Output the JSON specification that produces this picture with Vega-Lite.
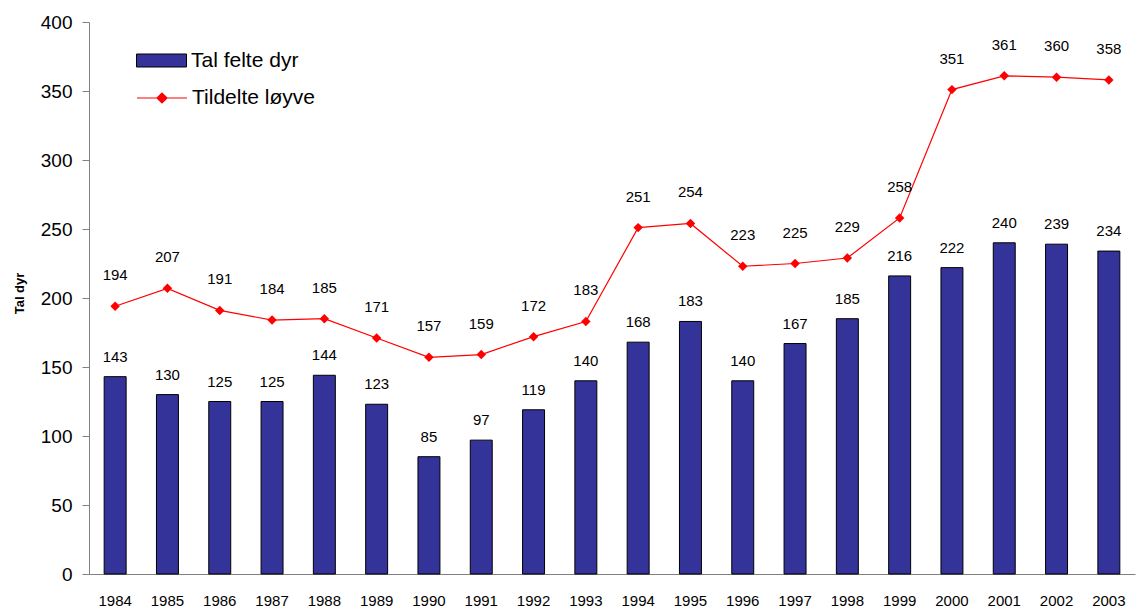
{
  "$schema": "https://vega.github.io/schema/vega-lite/v6.json",
  "autosize": "none",
  "width": 1046,
  "height": 552,
  "padding": {"left": 89, "top": 22, "right": 4, "bottom": 38},
  "background": "white",
  "config": {
    "view": {"stroke": null},
    "font": "Liberation Sans",
    "axis": {"labelFont": "Liberation Sans", "titleFont": "Liberation Sans", "domainColor": "#808080", "tickColor": "#808080", "labelColor": "black", "grid": false}
  },
  "data": {
    "values": [
      {"year": "1984", "felte": 143, "loyve": 194},
      {"year": "1985", "felte": 130, "loyve": 207},
      {"year": "1986", "felte": 125, "loyve": 191},
      {"year": "1987", "felte": 125, "loyve": 184},
      {"year": "1988", "felte": 144, "loyve": 185},
      {"year": "1989", "felte": 123, "loyve": 171},
      {"year": "1990", "felte": 85, "loyve": 157},
      {"year": "1991", "felte": 97, "loyve": 159},
      {"year": "1992", "felte": 119, "loyve": 172},
      {"year": "1993", "felte": 140, "loyve": 183},
      {"year": "1994", "felte": 168, "loyve": 251},
      {"year": "1995", "felte": 183, "loyve": 254},
      {"year": "1996", "felte": 140, "loyve": 223},
      {"year": "1997", "felte": 167, "loyve": 225},
      {"year": "1998", "felte": 185, "loyve": 229},
      {"year": "1999", "felte": 216, "loyve": 258},
      {"year": "2000", "felte": 222, "loyve": 351},
      {"year": "2001", "felte": 240, "loyve": 361},
      {"year": "2002", "felte": 239, "loyve": 360},
      {"year": "2003", "felte": 234, "loyve": 358}
    ]
  },
  "encoding": {
    "x": {
      "field": "year", "type": "nominal", "sort": null,
      "scale": {"paddingInner": 0.58, "paddingOuter": 0.29},
      "axis": {"title": null, "labelAngle": 0, "ticks": false, "labelPadding": 19, "labelFontSize": 15, "domainColor": "#808080"}
    }
  },
  "layer": [
    {
      "mark": {"type": "bar", "stroke": "#000000", "strokeWidth": 1},
      "encoding": {
        "y": {
          "field": "felte", "type": "quantitative",
          "scale": {"domain": [0, 400], "nice": false},
          "axis": {"title": "Tal dyr", "titleFontSize": 13, "titleFontWeight": "bold", "titleX": -70, "titleY": 271, "titleAngle": -90, "titleAlign": "center", "titleBaseline": "middle", "values": [0, 50, 100, 150, 200, 250, 300, 350, 400], "tickSize": 7, "labelPadding": 10, "labelFontSize": 19}
        },
        "fill": {
          "datum": "Tal felte dyr", "type": "nominal",
          "scale": {"range": ["#333399"]},
          "legend": {"title": null, "orient": "none", "legendX": 47, "legendY": 13, "symbolType": "M-1,-0.26H1V0.26H-1Z", "symbolSize": 2500, "symbolStrokeColor": "#000000", "symbolStrokeWidth": 1, "labelFontSize": 21, "labelFont": "Liberation Sans", "labelOffset": 4}
        }
      }
    },
    {
      "mark": {"type": "text", "dy": -20, "fontSize": 15, "font": "Liberation Sans", "color": "black"},
      "encoding": {"y": {"field": "felte", "type": "quantitative"}, "text": {"field": "felte"}}
    },
    {
      "mark": {"type": "line", "color": "#FF0000", "strokeWidth": 1.2},
      "encoding": {
        "y": {"field": "loyve", "type": "quantitative"},
        "stroke": {
          "datum": "Tildelte løyve", "type": "nominal",
          "scale": {"range": ["#FF0000"]},
          "legend": {"title": null, "orient": "none", "legendX": 47, "legendY": 50, "symbolType": "M-1,0H1M-0.2,0L0,-0.2L0.2,0L0,0.2Z", "symbolSize": 2500, "symbolFillColor": "#FF0000", "symbolStrokeWidth": 1.2, "labelFontSize": 21, "labelFont": "Liberation Sans", "labelOffset": 4}
        }
      }
    },
    {
      "mark": {"type": "point", "shape": "diamond", "filled": true, "color": "#FF0000", "size": 90, "opacity": 1},
      "encoding": {"y": {"field": "loyve", "type": "quantitative"}}
    },
    {
      "mark": {"type": "text", "dy": -31, "fontSize": 15, "font": "Liberation Sans", "color": "black"},
      "encoding": {"y": {"field": "loyve", "type": "quantitative"}, "text": {"field": "loyve"}}
    }
  ]
}
